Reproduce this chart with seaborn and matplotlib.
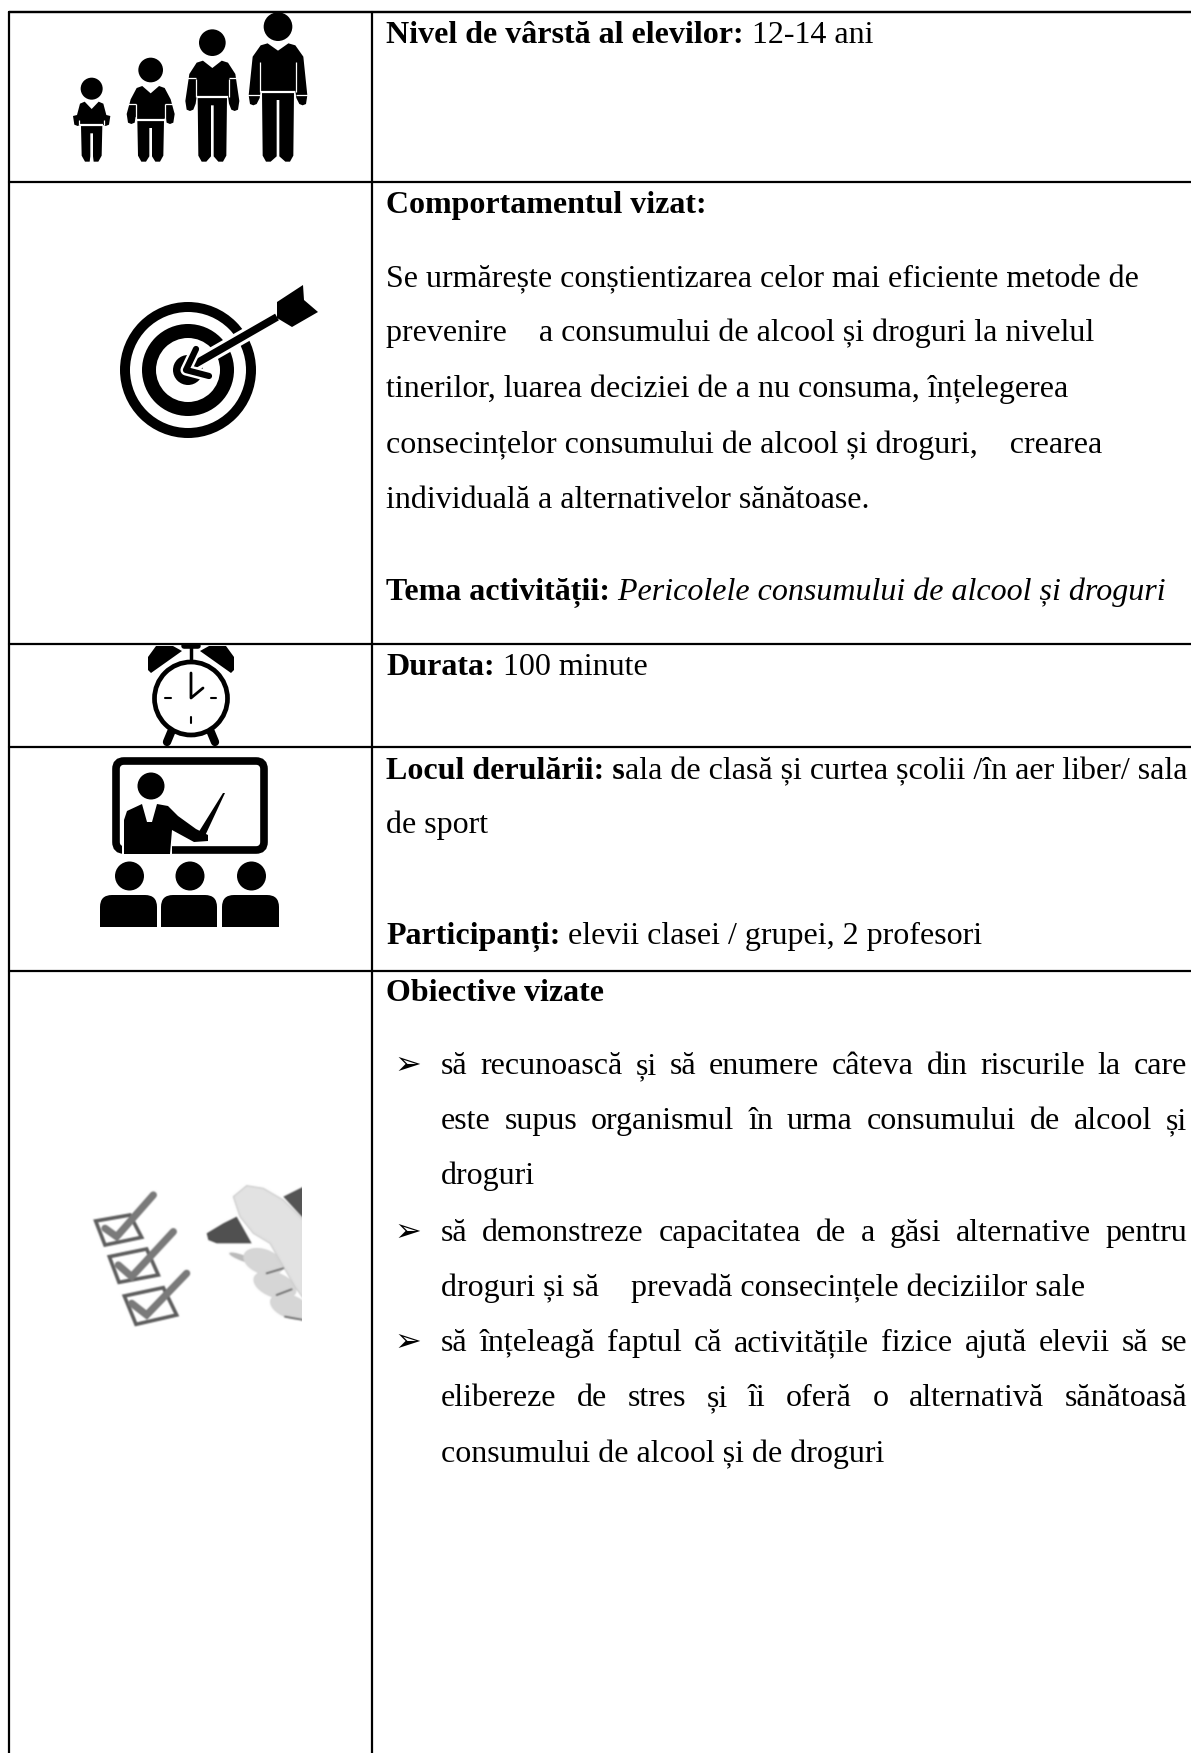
import numpy as np
import pandas as pd
import seaborn as sns
import matplotlib.pyplot as plt
from matplotlib.figure import Figure
from matplotlib.backends.backend_agg import FigureCanvasAgg
from matplotlib.patches import Circle, Polygon, FancyBboxPatch, Rectangle, Ellipse

# table rules, in picture pixels
rule_x0 = [9, 9, 9, 9, 9, 9, 9, 372]
rule_x1 = [1191, 1191, 1191, 1191, 1191, 1191, 9, 372]
rule_y0 = [12, 182, 644, 747, 971, 12, 12, 12]
rule_y1 = [12, 182, 644, 747, 971, 12, 1753, 1753]

# people, read at 3x from the crop starting at x=60
people_x = [95, 272, 457, 654]
head_y = [266, 210, 128, 80]
head_r = [33, 37, 40, 43]
top_y = [305, 258, 182, 130]
belt_y = [372, 356, 288, 272]
torso_w = [35, 42, 47, 52]
arm_w = [56, 72, 81, 88]
sleeve_y = [0, 312, 233, 285]
hand_y = [378, 372, 333, 316]
leg_w = [32, 40, 44, 48]
foot_y = 485

# checklist photo, read at 3x from the crop starting at (50, 1020)
boxes = [
    [(137, 603), (240, 585), (275, 652), (165, 675)],
    [(178, 710), (290, 687), (325, 765), (207, 787)],
    [(223, 828), (340, 803), (380, 885), (258, 913)],
]
ticks = [
    [(165, 625), (200, 650), (310, 525)],
    [(205, 735), (245, 770), (370, 635)],
    [(245, 850), (290, 885), (410, 760)],
]
marker_tip = [(470, 640), (520, 610), (560, 590), (605, 670), (500, 670), (475, 660)]
marker_body = [(700, 530), (760, 500), (760, 595)]
thumb = [(550, 530), (590, 497), (640, 505), (700, 540), (760, 600), (760, 835), (735, 800), (660, 670), (610, 640), (570, 590)]
fingers = [(640, 725, 125, 75), (675, 795, 135, 75), (720, 860, 125, 70)]
creases = [[(650, 760), (700, 745)], [(680, 825), (725, 808)], [(705, 890), (760, 900)]]

# text: runs and baseline y
top_lines = [
    ([("Nivel de vârstă al elevilor:", "b"), (" 12-14 ani", "r")], 43),
    ([("Comportamentul vizat:", "b")], 213),
    ([("Se urmărește conștientizarea celor mai eficiente metode de", "r")], 287),
    ([("prevenire    a consumului de alcool și droguri la nivelul", "r")], 341),
    ([("tinerilor, luarea deciziei de a nu consuma, înțelegerea", "r")], 397),
    ([("consecințelor consumului de alcool și droguri,    crearea", "r")], 453),
    ([("individuală a alternativelor sănătoase.", "r")], 508),
    ([("Tema activității:", "b"), (" Pericolele consumului de alcool și droguri", "i")], 600),
    ([("Durata:", "b"), (" 100 minute", "r")], 675),
    ([("Locul derulării: s", "b"), ("ala de clasă și curtea școlii /în aer liber/ sala", "r")], 779),
    ([("de sport", "r")], 833),
    ([("Participanți:", "b"), (" elevii clasei / grupei, 2 profesori", "r")], 944),
    ([("Obiective vizate", "b")], 1001),
]
bullet_y = [1074, 1241, 1351]
justified = [
    ("să recunoască și să enumere câteva din riscurile la care", 1074),
    ("este supus organismul în urma consumului de alcool și", 1129),
    ("să demonstreze capacitatea de a găsi alternative pentru", 1241),
    ("să înțeleagă faptul că activitățile fizice ajută elevii să se", 1351),
    ("elibereze de stres  și îi oferă o alternativă sănătoasă", 1406),
]
plain = [
    ("droguri", 1184),
    ("droguri și să    prevadă consecințele deciziilor sale", 1296),
    ("consumului de alcool și de droguri", 1462),
]

sns.set_theme(style="white")
plt.rcParams["font.family"] = ["Liberation Serif", "DejaVu Sans"]

fig = plt.figure(figsize=(11.91, 17.53), dpi=100)
ax = fig.add_axes([0, 0, 1, 1])

rules = pd.DataFrame({
    "x": rule_x0 + rule_x1,
    "y": rule_y0 + rule_y1,
    "rule": list(range(8)) * 2,
})
sns.lineplot(data=rules, x="x", y="y", units="rule", estimator=None, sort=False,
             color="black", linewidth=1.6, legend=False, ax=ax)


def fill(pts, color="black", z=3):
    ax.add_patch(Polygon(pts, closed=True, facecolor=color, edgecolor="none", zorder=z))


def zoomed(pts):
    return [(x / 3 + 60, y / 3) for x, y in pts]


# people icon
for i in range(4):
    cx, hy, r, ty, by = people_x[i], head_y[i], head_r[i], top_y[i], belt_y[i]
    tw, aw, sl, hn, lw = torso_w[i], arm_w[i], sleeve_y[i], hand_y[i], leg_w[i]
    ax.add_patch(Circle((cx / 3 + 60, hy / 3), r / 3, color="black", lw=0, zorder=3))
    left = [(0, ty + 22), (tw * 0.6, ty), (tw, ty + 6), (aw - 12, ty + 40), (aw, hn - 30), (aw - 4, hn - 4),
            (aw - 14, hn), (aw - 24, hn - 4), (tw + 3, hn - 22), (tw, by), (lw, by + 6), (lw - 2, foot_y - 18),
            (lw - 12, foot_y), (lw - 26, foot_y), (4, foot_y - 16), (4, by + 28), (0, by + 28)]
    outline = [(cx - dx, y) for dx, y in left] + [(cx + dx, y) for dx, y in reversed(left)]
    fill(zoomed(outline))
    line_kw = dict(color="white", zorder=4, solid_capstyle="butt")
    ax.plot(*zip(*zoomed([(cx - tw, by + 4), (cx + tw, by + 4)])), lw=1.6, **line_kw)
    for s in (-1, 1):
        ax.plot(*zip(*zoomed([(cx + s * (tw + 2), ty + 55), (cx + s * (tw + 2), by + 4)])), lw=0.9, **line_kw)
        if sl:
            ax.plot(*zip(*zoomed([(cx + s * (aw + 4), sl), (cx + s * (tw + 2), sl)])), lw=0.9, **line_kw)

# target icon
for r, c in [(68, "black"), (58, "white"), (46, "black"), (32, "white"), (15, "black")]:
    ax.add_patch(Circle((188, 370), r, color=c, lw=0, zorder=3))
ax.plot([190, 277], [367, 317], color="white", lw=10, zorder=4, solid_capstyle="butt")
ax.plot([190, 277], [367, 317], color="black", lw=5.5, zorder=5, solid_capstyle="butt")
ax.plot([196, 186, 209], [349, 370, 376], color="white", lw=8, zorder=5)
ax.plot([196, 186, 209], [349, 370, 376], color="black", lw=4.5, zorder=6, solid_capstyle="round")
fill([(277, 302), (303, 285), (304, 300), (318, 312), (292, 327), (277, 318)], z=5)

# clock icon
fill([(156, 646), (148, 657), (148, 670), (151, 673), (182, 651), (173, 646)])
fill([(226, 646), (234, 657), (234, 670), (231, 673), (200, 651), (209, 646)])
ax.plot([191, 191], [647, 662], color="black", lw=2.5, zorder=3)
ax.plot([184, 198], [646, 646], color="black", lw=4, zorder=3)
ax.plot([172, 167], [730, 742], color="black", lw=6, zorder=3, solid_capstyle="round")
ax.plot([210, 215], [730, 742], color="black", lw=6, zorder=3, solid_capstyle="round")
ax.add_patch(Circle((191, 698.5), 36.5, facecolor="white", edgecolor="black", lw=3.4, zorder=4))
ax.plot([191, 191, 203], [673, 698, 688], color="black", lw=2, zorder=5)
ax.plot([165, 171], [698, 698], color="black", lw=1.5, zorder=5)
ax.plot([211, 216], [698, 698], color="black", lw=1.5, zorder=5)
ax.plot([191, 191], [717, 723], color="black", lw=1.5, zorder=5)

# classroom icon
ax.add_patch(FancyBboxPatch((116, 761), 148, 89, boxstyle="round,pad=0,rounding_size=8",
                            facecolor="white", edgecolor="black", lw=5.5, zorder=3))
ax.add_patch(Rectangle((122, 845), 50, 11, color="white", lw=0, zorder=4))
ax.add_patch(Circle((151, 786), 13.5, color="black", lw=0, zorder=5))
fill([(124, 854), (124, 820), (127, 811), (142, 804), (147, 822), (152, 822), (157, 804), (168, 806),
      (178, 816), (196, 829), (208, 835), (208, 841), (194, 842), (172, 830), (170, 854)], z=5)
fill([(195, 838), (223, 793), (225, 793), (204, 838)], z=5)
for x0, x1 in [(100, 157), (161, 217), (222, 279)]:
    ax.add_patch(Circle(((x0 + x1) / 2 + 1, 876), 14.5, color="black", lw=0, zorder=3))
    ax.add_patch(FancyBboxPatch((x0, 895), x1 - x0, 32, boxstyle="round,pad=0,rounding_size=12",
                                color="black", lw=0, zorder=3))
    ax.add_patch(Rectangle((x0, 912), x1 - x0, 15, color="black", lw=0, zorder=3))

# checklist photo: drawn small, then softened like a scanned picture
photo_fig = Figure(figsize=(3.0, 3.2), dpi=100)
photo_canvas = FigureCanvasAgg(photo_fig)
pa = photo_fig.add_axes([0, 0, 1, 1])
pa.set_xlim(0, 900)
pa.set_ylim(960, 0)
pa.axis("off")
for box, tick in zip(boxes, ticks):
    pa.add_patch(Polygon(box, closed=True, facecolor="white", edgecolor="#5f5f5f", lw=2.6))
    pa.plot(*zip(*tick), color="#7a7a7a", lw=5.2, solid_joinstyle="miter")
pa.add_patch(Ellipse((580, 715), 90, 18, angle=20, color="#bbbbbb", lw=0))
pa.add_patch(Polygon(marker_body, closed=True, color="#555555", lw=0))
pa.add_patch(Polygon(marker_tip, closed=True, color="#505050", lw=0))
for x, y, w, h in fingers:
    pa.add_patch(Ellipse((x, y), w, h, angle=20, facecolor="#d6d6d6", lw=0))
for crease in creases:
    pa.plot(*zip(*crease), color="#777777", lw=1.4)
pa.add_patch(Polygon(thumb, closed=True, facecolor="#e2e2e2", edgecolor="#cccccc", lw=0.8))
photo_canvas.draw()
photo = np.asarray(photo_canvas.buffer_rgba())[:, :, :3].astype(float)
kernel = np.array([1, 2, 1]) / 4
for axis in (0, 1):
    for c in range(3):
        photo[:, :, c] = np.apply_along_axis(lambda row: np.convolve(row, kernel, mode="same"), axis, photo[:, :, c])
photo[:, 252:] = 255
photo[[0, -1], :] = 255
photo[:, [0, -1]] = 255
ax.imshow(photo.astype(np.uint8), extent=(50, 350, 1340, 1020), aspect="auto", zorder=2, interpolation="bilinear")

ax.set_xlim(0, 1191)
ax.set_ylim(1753, 0)
ax.axis("off")

# text
fs = 23.0
renderer = fig.canvas.get_renderer()
styles = {"r": {}, "b": {"fontweight": "bold"}, "i": {"fontstyle": "italic"}}


def width(s, st="r"):
    t = ax.text(0, 0, "x" + s + "x", fontsize=fs, **styles[st])
    w = t.get_window_extent(renderer).width
    t.remove()
    t = ax.text(0, 0, "xx", fontsize=fs, **styles[st])
    w -= t.get_window_extent(renderer).width
    t.remove()
    return w


def put(s, x, y, st="r"):
    ax.text(x, y, s, fontsize=fs, va="baseline", ha="left", color="black", zorder=6, **styles[st])


for runs, y in top_lines:
    x = 386
    for s, st in runs:
        put(s, x, y, st)
        x += width(s, st)

for s, y in plain:
    put(s, 441, y)

for s, y in justified:
    words = s.split()
    free = 1187 - 441 - sum(width(w) for w in words)
    gap = free / (len(words) - 1)
    x = 441
    for w in words:
        put(w, x, y)
        x += width(w) + gap

for y in bullet_y:
    ax.text(394, y, "➢", fontsize=fs, family=["DejaVu Sans"], va="baseline", ha="left", color="black")

fig.savefig("out.png", dpi=100)
